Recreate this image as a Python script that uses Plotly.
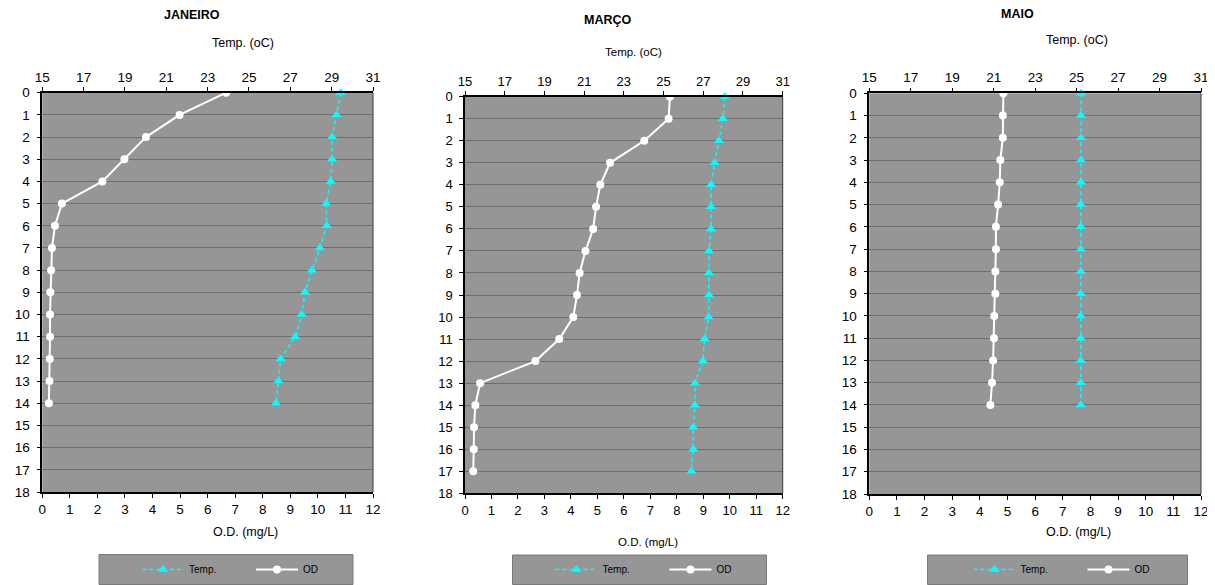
import plotly.graph_objects as go

# ---------------- data ----------------
months = ["JANEIRO", "MARÇO", "MAIO"]

depth_jan = list(range(0, 15))
od_jan = [6.67, 4.98, 3.76, 2.98, 2.18, 0.71, 0.46, 0.35, 0.32, 0.29, 0.28, 0.28, 0.27, 0.26, 0.24]
temp_jan = [29.44, 29.24, 29.02, 29.02, 28.95, 28.74, 28.76, 28.43, 28.05, 27.71, 27.55, 27.23, 26.53, 26.42, 26.31]

depth_mar = list(range(0, 18))
od_mar = [7.74, 7.69, 6.77, 5.48, 5.11, 4.95, 4.84, 4.55, 4.33, 4.23, 4.09, 3.56, 2.66, 0.57, 0.39, 0.34, 0.33, 0.31]
temp_mar = [28.08, 27.99, 27.79, 27.57, 27.39, 27.39, 27.39, 27.29, 27.29, 27.29, 27.27, 27.07, 26.98, 26.58, 26.58, 26.50, 26.49, 26.40]

depth_mai = list(range(0, 15))
od_mai = [4.85, 4.83, 4.83, 4.74, 4.72, 4.66, 4.58, 4.58, 4.56, 4.56, 4.52, 4.51, 4.48, 4.44, 4.38]
temp_mai = [25.22, 25.21, 25.21, 25.21, 25.21, 25.20, 25.20, 25.20, 25.20, 25.20, 25.20, 25.20, 25.20, 25.20, 25.20]

od_ticks = list(range(0, 13))
temp_ticks = [15, 17, 19, 21, 23, 25, 27, 29, 31]
depth_ticks = list(range(0, 19))

# ---------------- layout geometry (page pixels) ----------------
OX, OY = 8, 8            # page body margin offset of the figure div
W, H = 1207, 577         # figure size (fills the visible window)
FONT = "Liberation Sans, Arial, sans-serif"
BG = "#969696"
GRID = "#6e6e6e"


def fx(px):
    return (px - OX) / W


def fy(py):
    return 1 - (py - OY) / H


panels = [
    dict(depths=depth_jan, od=od_jan, temp=temp_jan, px=(42.3, 373.0), py=(92.7, 492.0),
         title=(192, 15), ttl=(243, 43), otl=(245, 532), box=(99, 353, 554.5), tick=13.5, ax=12.5),
    dict(depths=depth_mar, od=od_mar, temp=temp_mar, px=(465.0, 782.7), py=(96.7, 493.3),
         title=(607, 20), ttl=(633, 52), otl=(648, 542), box=(512.5, 766.5, 555), tick=13, ax=11.5),
    dict(depths=depth_mai, od=od_mai, temp=temp_mai, px=(869.3, 1201.0), py=(93.3, 494.0),
         title=(1018, 14), ttl=(1077, 40), otl=(1078, 532), box=(927.5, 1187.5, 555), tick=13.5, ax=12.5),
]

fig = go.Figure()
layout = dict(
    template="none",
    width=W, height=H,
    margin=dict(l=0, r=0, t=0, b=0, autoexpand=False),
    paper_bgcolor="white",
    plot_bgcolor=BG,
    showlegend=True,
    font=dict(family=FONT, color="black"),
    annotations=[], shapes=[],
)

for i, p in enumerate(panels):
    n = i + 1
    xb = f"x{2*i+1}" if i > 0 else "x"
    xt = f"x{2*i+2}"
    yk = f"y{n}" if n > 1 else "y"
    leg = "legend" if n == 1 else f"legend{n}"

    xdom = [fx(p["px"][0]), fx(p["px"][1])]
    ydom = [fy(p["py"][1]), fy(p["py"][0])]

    fig.add_trace(go.Scatter(
        x=p["temp"], y=p["depths"], xaxis=xt, yaxis=yk, name="Temp.", legend=leg,
        mode="lines+markers", cliponaxis=False,
        line=dict(color="#00FFFF", width=1.5, dash="4px,3px"),
        marker=dict(symbol="triangle-up", size=9, color="#00FFFF"),
    ))
    fig.add_trace(go.Scatter(
        x=p["od"], y=p["depths"], xaxis=xb, yaxis=yk, name="OD", legend=leg,
        mode="lines+markers", cliponaxis=False,
        line=dict(color="white", width=2),
        marker=dict(symbol="circle", size=8, color="white"),
    ))

    xbk = "xaxis" if i == 0 else f"xaxis{2*i+1}"
    xtk = f"xaxis{2*i+2}"
    yak = "yaxis" if n == 1 else f"yaxis{n}"
    ya_ref = "y" if n == 1 else f"y{n}"
    xb_ref = "x" if i == 0 else f"x{2*i+1}"

    common = dict(
        zeroline=False, showline=True, linecolor="black", linewidth=1.5,
        ticks="outside", ticklen=4, tickcolor="black",
        tickfont=dict(size=p["tick"], family=FONT, color="black"),
        fixedrange=True, automargin=False,
    )
    layout[xbk] = dict(domain=xdom, anchor=ya_ref, range=[0, 12], tickvals=od_ticks,
                       showgrid=False, **common)
    layout[xtk] = dict(overlaying=xb_ref, anchor=ya_ref, side="top", range=[15, 31],
                       tickvals=temp_ticks, showgrid=False, **common)
    layout[yak] = dict(domain=ydom, anchor=xb_ref, range=[18, 0], tickvals=depth_ticks,
                       showgrid=True, gridcolor=GRID, gridwidth=1, ticklabelstandoff=4,
                       **common)

    # right border of plot area
    layout["shapes"].append(dict(
        type="line", xref=f"{xb_ref} domain", yref=f"{ya_ref} domain",
        x0=1, x1=1, y0=0, y1=1, line=dict(color="#3c3c3c", width=1),
    ))
    # legend box
    bx0, bx1, by = p["box"]
    layout["shapes"].append(dict(
        type="rect", xref="paper", yref="paper", layer="below",
        x0=fx(bx0), x1=fx(bx1), y0=fy(584.5), y1=fy(by),
        fillcolor=BG, line=dict(color="#7a7a7a", width=1),
    ))

    layout[leg] = dict(
        orientation="h", x=fx((bx0 + bx1) / 2 + 25), xanchor="center",
        y=fy(569.5), yanchor="middle", bgcolor="rgba(0,0,0,0)",
        font=dict(size=10, family=FONT, color="black"),
        itemwidth=42, entrywidth=57, traceorder="normal",
    )

    layout["annotations"] += [
        dict(text=f"<b>{months[i]}</b>", x=fx(p["title"][0]), y=fy(p["title"][1]),
             xref="paper", yref="paper", showarrow=False, xanchor="center", yanchor="middle",
             font=dict(size=12.5, family=FONT, color="black")),
        dict(text="Temp. (oC)", x=fx(p["ttl"][0]), y=fy(p["ttl"][1]),
             xref="paper", yref="paper", showarrow=False, xanchor="center", yanchor="middle",
             font=dict(size=p["ax"], family=FONT, color="black")),
        dict(text="O.D. (mg/L)", x=fx(p["otl"][0]), y=fy(p["otl"][1]),
             xref="paper", yref="paper", showarrow=False, xanchor="center", yanchor="middle",
             font=dict(size=p["ax"], family=FONT, color="black")),
    ]

fig.update_layout(**layout)
fig.write_html("out.html")
